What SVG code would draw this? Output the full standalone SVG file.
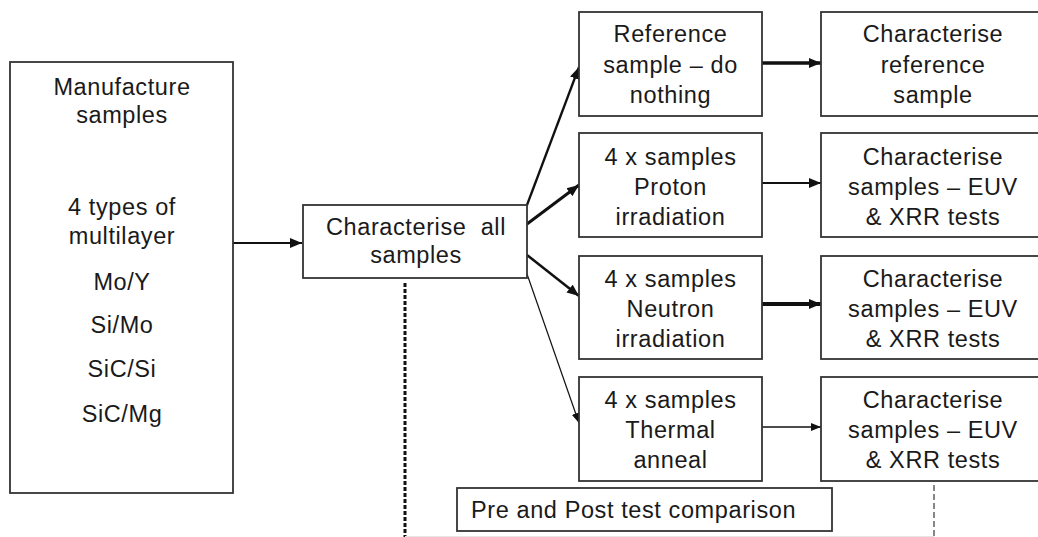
<svg xmlns="http://www.w3.org/2000/svg" width="1038" height="537" viewBox="0 0 1038 537">
<style>
.box{fill:#fff;stroke:#333;stroke-width:1.8}
.t{font-family:"Liberation Sans",Arial,sans-serif;font-size:23.5px;letter-spacing:0.6px;fill:#1a1a1a;text-anchor:middle}
.tl{text-anchor:start}
.c{stroke:#111;fill:none}
</style>
<defs>
<marker id="ah" markerUnits="userSpaceOnUse" markerWidth="13" markerHeight="11" refX="12" refY="5.5" orient="auto"><path d="M0,0.5 L12,5.5 L0,10.5 Z" fill="#111"/></marker>
<marker id="ahs" markerUnits="userSpaceOnUse" markerWidth="11" markerHeight="9" refX="10" refY="4.5" orient="auto"><path d="M0,0.5 L10,4.5 L0,8.5 Z" fill="#111"/></marker>
</defs>
<rect width="1038" height="537" fill="#fff"/>
<g id="connectors">
<line class="c" x1="233" y1="243" x2="302" y2="243" stroke-width="2" marker-end="url(#ah)"/>
<line class="c" x1="527" y1="205" x2="579" y2="67" stroke-width="2.3" marker-end="url(#ah)"/>
<line class="c" x1="527" y1="224" x2="579" y2="185" stroke-width="3" marker-end="url(#ah)"/>
<line class="c" x1="527" y1="255" x2="579" y2="296" stroke-width="2.5" marker-end="url(#ah)"/>
<line class="c" x1="527" y1="274" x2="579" y2="423" stroke-width="1.2" marker-end="url(#ahs)"/>
<line class="c" x1="762" y1="63" x2="821" y2="63" stroke-width="3.5" marker-end="url(#ah)"/>
<line class="c" x1="762" y1="183" x2="821" y2="183" stroke-width="2" marker-end="url(#ah)"/>
<line class="c" x1="762" y1="304" x2="821" y2="304" stroke-width="4" marker-end="url(#ah)"/>
<line class="c" x1="762" y1="427" x2="821" y2="427" stroke-width="1.4" marker-end="url(#ahs)"/>
<line class="c" x1="405" y1="283" x2="405" y2="537" stroke-width="3" stroke-dasharray="4 2"/>
<line class="c" x1="934" y1="485" x2="934" y2="537" stroke-width="1" stroke="#444" stroke-dasharray="6 3"/>
<line x1="405" y1="536.5" x2="934" y2="536.5" stroke="#e4e4e4" stroke-width="1"/>
</g>
<g id="manufacture">
<rect class="box" x="10" y="62" width="223" height="431"/>
<text class="t" x="122" y="95">Manufacture</text>
<text class="t" x="122" y="123">samples</text>
<text class="t" x="122" y="215">4 types of</text>
<text class="t" x="122" y="244">multilayer</text>
<text class="t" x="122" y="290">Mo/Y</text>
<text class="t" x="122" y="333">Si/Mo</text>
<text class="t" x="122" y="377">SiC/Si</text>
<text class="t" x="122" y="422">SiC/Mg</text>
</g>
<g id="characterise-all">
<rect class="box" x="303" y="205" width="224" height="73"/>
<text class="t" x="416" y="235" xml:space="preserve">Characterise  all</text>
<text class="t" x="416" y="263">samples</text>
</g>
<g id="reference">
<rect class="box" x="579" y="12" width="183" height="104"/>
<text class="t" x="670.5" y="42">Reference</text>
<text class="t" x="670.5" y="73">sample – do</text>
<text class="t" x="670.5" y="103">nothing</text>
</g>
<g id="proton">
<rect class="box" x="579" y="133" width="183" height="104"/>
<text class="t" x="670.5" y="165">4 x samples</text>
<text class="t" x="670.5" y="195">Proton</text>
<text class="t" x="670.5" y="225">irradiation</text>
</g>
<g id="neutron">
<rect class="box" x="579" y="256" width="183" height="103"/>
<text class="t" x="670.5" y="287">4 x samples</text>
<text class="t" x="670.5" y="317">Neutron</text>
<text class="t" x="670.5" y="347">irradiation</text>
</g>
<g id="thermal">
<rect class="box" x="579" y="377" width="183" height="104"/>
<text class="t" x="670.5" y="408">4 x samples</text>
<text class="t" x="670.5" y="438">Thermal</text>
<text class="t" x="670.5" y="468">anneal</text>
</g>
<g id="char-reference">
<rect class="box" x="821" y="12" width="230" height="104"/>
<text class="t" x="933" y="42">Characterise</text>
<text class="t" x="933" y="73">reference</text>
<text class="t" x="933" y="103">sample</text>
</g>
<g id="char-proton">
<rect class="box" x="821" y="133" width="230" height="104"/>
<text class="t" x="933" y="165">Characterise</text>
<text class="t" x="933" y="195">samples – EUV</text>
<text class="t" x="933" y="225">&amp; XRR tests</text>
</g>
<g id="char-neutron">
<rect class="box" x="821" y="256" width="230" height="103"/>
<text class="t" x="933" y="287">Characterise</text>
<text class="t" x="933" y="317">samples – EUV</text>
<text class="t" x="933" y="347">&amp; XRR tests</text>
</g>
<g id="char-thermal">
<rect class="box" x="821" y="377" width="230" height="104"/>
<text class="t" x="933" y="408">Characterise</text>
<text class="t" x="933" y="438">samples – EUV</text>
<text class="t" x="933" y="468">&amp; XRR tests</text>
</g>
<g id="comparison">
<rect class="box" x="457" y="488" width="375" height="43"/>
<text class="t tl" x="471" y="518">Pre and Post test comparison</text>
</g>
</svg>
